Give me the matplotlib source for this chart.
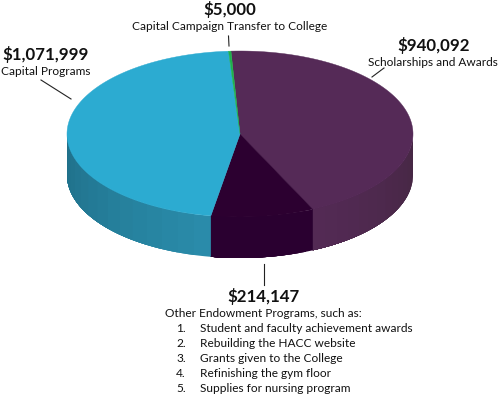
import numpy as np
import matplotlib
matplotlib.use("Agg")
import matplotlib.pyplot as plt

# Dollar amounts as labelled on the chart
amounts = ["$5,000", "$940,092", "$214,147", "$1,071,999"]
names = ["Capital Campaign Transfer to College", "Scholarships and Awards",
         "Other Endowment Programs, such as:", "Capital Programs"]
other_items = ["Student and faculty achievement awards", "Rebuilding the HACC website",
               "Grants given to the College", "Refinishing the gym floor",
               "Supplies for nursing program"]
# Slice sizes as drawn in the picture (degrees of the pie, clockwise)
slice_degrees = [0.8, 158.1, 34.6, 166.5]
slice_colors = ["#1DB14B", "#552A57", "#2C0030", "#2CABD1"]
wall_start = ["#1DB14B", "#452743", "#2A0030", "#2A8CAB"]
wall_end = ["#1DB14B", "#532A55", "#2A0030", "#1F6F88"]
start_angle = -3.8

CX, CY, RX, RY, DEPTH = 240, 134, 173, 83, 41

plt.rcParams["font.family"] = ["Lato", "DejaVu Sans"]
fig = plt.figure(figsize=(5, 3.96), dpi=100)
ax = fig.add_axes([0, 0, 1, 1])
ax.set_xlim(0, 500)
ax.set_ylim(396, 0)
ax.axis("off")


def pt(deg):
    t = np.radians(deg)
    return CX + RX * np.sin(t), CY - RY * np.cos(t)


def mix(a, b, f):
    ca, cb = np.array(matplotlib.colors.to_rgb(a)), np.array(matplotlib.colors.to_rgb(b))
    return tuple(ca + (cb - ca) * f)


edges = start_angle + np.concatenate([[0], np.cumsum(slice_degrees)])
BANDS = 14
for i in range(len(slice_degrees)):
    a0, a1 = edges[i], edges[i + 1]
    lo, hi = max(a0, 90), min(a1, 270)
    if hi > lo:
        steps = np.linspace(lo, hi, BANDS + 1)
        # paint each band from its start to the far end of the slice, so no seams appear
        for k in range(BANDS):
            th = np.linspace(steps[k], hi, 80)
            x, y = pt(th)
            xs = np.r_[x, x[::-1]]
            ys = np.r_[y, y[::-1] + DEPTH]
            col = mix(wall_start[i], wall_end[i], (k + 0.5) / BANDS)
            ax.fill(xs, ys, color=col, lw=0, zorder=1)
for i in range(len(slice_degrees)):
    th = np.linspace(edges[i], edges[i + 1], 200)
    x, y = pt(th)
    ax.fill(np.r_[CX, x], np.r_[CY, y], color=slice_colors[i], lw=0.3, zorder=2 + (i == 0))

BOLD, REG = 12.2, 8.6
def label(x, y, s, bold=False, ha="center"):
    ax.text(x, y, s, ha=ha, va="baseline", color="#111111",
            fontsize=BOLD if bold else REG, fontweight="bold" if bold else "normal")

label(230, 15, amounts[0], True)
label(230, 30, names[0])
label(434, 51, amounts[1], True)
label(433, 66, names[1])
label(46, 60, amounts[3], True)
label(46, 75, names[3])
label(264, 302, amounts[2], True)
label(165, 317, names[2], ha="left")
for n, item in enumerate(other_items):
    base = 332 + n * 15
    label(176, base, f"{n + 1}.", ha="left")
    label(200, base, item, ha="left")

for xs, ys in [((228.5, 229), (36, 46)), ((372, 384), (77, 68)),
               ((41, 71), (80, 99)), ((263.5, 263.5), (264, 285))]:
    ax.plot(xs, ys, color="#222222", lw=0.8, zorder=4)

fig.savefig("out.png", dpi=100, facecolor="white")
